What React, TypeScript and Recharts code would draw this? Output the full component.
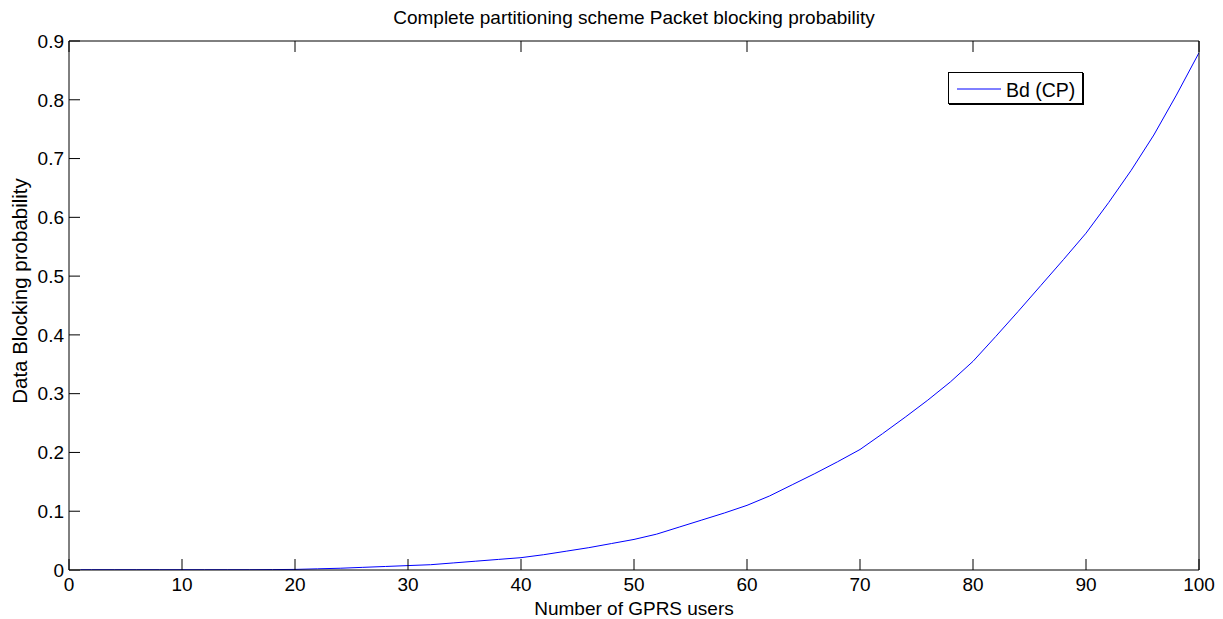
import React from 'react';
import { LineChart, Line, XAxis, YAxis, Legend, Label } from 'recharts';

const users = [1, 2, 4, 6, 8, 10, 12, 14, 16, 18, 20, 22, 24, 26, 28, 30, 32, 34, 36, 38, 40, 42, 44, 46, 48, 50, 52, 54, 56, 58, 60, 62, 64, 66, 68, 70, 72, 74, 76, 78, 80, 82, 84, 86, 88, 90, 92, 94, 96, 98, 100];
const blocking = [0.0005, 0.0005, 0.0005, 0.0005, 0.0005, 0.0005, 0.0005, 0.0005, 0.0005, 0.0007, 0.001, 0.002, 0.003, 0.0045, 0.006, 0.0075, 0.009, 0.012, 0.015, 0.018, 0.021, 0.026, 0.032, 0.038, 0.045, 0.052, 0.061, 0.073, 0.085, 0.097, 0.110, 0.126, 0.145, 0.164, 0.184, 0.205, 0.232, 0.260, 0.289, 0.320, 0.355, 0.397, 0.440, 0.484, 0.528, 0.573, 0.625, 0.680, 0.740, 0.808, 0.880];
const xTicks = [0, 10, 20, 30, 40, 50, 60, 70, 80, 90, 100];
const yTicks = [0, 0.1, 0.2, 0.3, 0.4, 0.5, 0.6, 0.7, 0.8, 0.9];
const seriesName = 'Bd (CP)';
const titleText = 'Complete partitioning scheme Packet blocking probability';
const xLabelText = 'Number of GPRS users';
const yLabelText = 'Data Blocking probability';

const data = users.map((u, i) => ({ users: u, bd: blocking[i] }));

const FONT = '"Liberation Sans", Arial, Helvetica, sans-serif';
const tickStyle = { fill: '#000', fontSize: 19, fontFamily: FONT };

const LegendBox = () => (
  <div
    style={{
      position: 'relative',
      boxSizing: 'border-box',
      width: 135,
      height: 32,
      border: '1px solid #000',
      boxShadow: '1px 1px 0 #000',
      background: '#fff',
      fontFamily: FONT,
    }}
  >
    <svg width={46} height={4} style={{ position: 'absolute', left: 8, top: 14 }}>
      <line x1={0} y1={2} x2={44} y2={2} stroke="#0000ff" strokeWidth={1} />
    </svg>
    <span style={{ position: 'absolute', left: 57, top: 7, fontSize: 19.5, lineHeight: '20px', color: '#000', whiteSpace: 'nowrap' }}>
      {seriesName}
    </span>
  </div>
);

export default function App() {
  return (
    <div style={{ position: 'relative', width: 1207, height: 611, background: '#fff' }}>
      <div
        style={{
          position: 'absolute',
          left: 61,
          width: 1130,
          top: 0,
          textAlign: 'center',
          fontFamily: FONT,
          fontSize: 19,
          lineHeight: '19px',
          color: '#000',
        }}
      >
        {titleText}
      </div>
      <LineChart width={1207} height={611} data={data} margin={{ top: 3, right: 0, bottom: 19, left: 0 }}>
        <XAxis
          xAxisId="b"
          dataKey="users"
          type="number"
          domain={[0, 100]}
          ticks={xTicks}
          interval={0}
          allowDataOverflow
          height={30}
          tickSize={-11}
          tickMargin={19}
          tick={tickStyle}
          axisLine={{ stroke: '#000', strokeWidth: 1 }}
          tickLine={{ stroke: '#000' }}
        >
          <Label
            content={(props: any) => {
              const vb = props.viewBox || { x: 61, y: 562, width: 1130 };
              return (
                <text x={vb.x + vb.width / 2} y={vb.y + 45} textAnchor="middle" fontSize={19} fontFamily={FONT} fill="#000">
                  {xLabelText}
                </text>
              );
            }}
          />
        </XAxis>
        <XAxis
          xAxisId="t"
          orientation="top"
          type="number"
          domain={[0, 100]}
          ticks={xTicks}
          interval={0}
          height={30}
          tickSize={-11}
          tickFormatter={() => ''}
          axisLine={{ stroke: '#000', strokeWidth: 1 }}
          tickLine={{ stroke: '#000' }}
        />
        <YAxis
          yAxisId="l"
          type="number"
          domain={[0, 0.9]}
          ticks={yTicks}
          interval={0}
          allowDataOverflow
          width={61}
          tickSize={-11}
          tickMargin={16}
          tick={tickStyle}
          axisLine={{ stroke: '#000', strokeWidth: 1 }}
          tickLine={{ stroke: '#000' }}
        >
          <Label
            content={() => (
              <text x={19} y={283} transform="rotate(-90 19 283)" textAnchor="middle" fontSize={20.5} fontFamily={FONT} fill="#000">
                {yLabelText}
              </text>
            )}
          />
        </YAxis>
        <YAxis
          yAxisId="r"
          orientation="right"
          type="number"
          domain={[0, 0.9]}
          ticks={yTicks}
          interval={0}
          width={16}
          tickSize={-11}
          tickFormatter={() => ''}
          axisLine={{ stroke: '#000', strokeWidth: 1 }}
          tickLine={{ stroke: '#000' }}
        />
        <Legend
          layout="horizontal"
          verticalAlign="middle"
          align="center"
          content={() => <LegendBox />}
          wrapperStyle={{ position: 'absolute', left: 940, top: 64, width: 'auto', height: 'auto' }}
        />
        <Line
          xAxisId="b"
          yAxisId="l"
          type="linear"
          dataKey="bd"
          name={seriesName}
          stroke="#0000ff"
          strokeWidth={1}
          dot={false}
          activeDot={false}
          isAnimationActive={false}
        />
      </LineChart>
    </div>
  );
}
